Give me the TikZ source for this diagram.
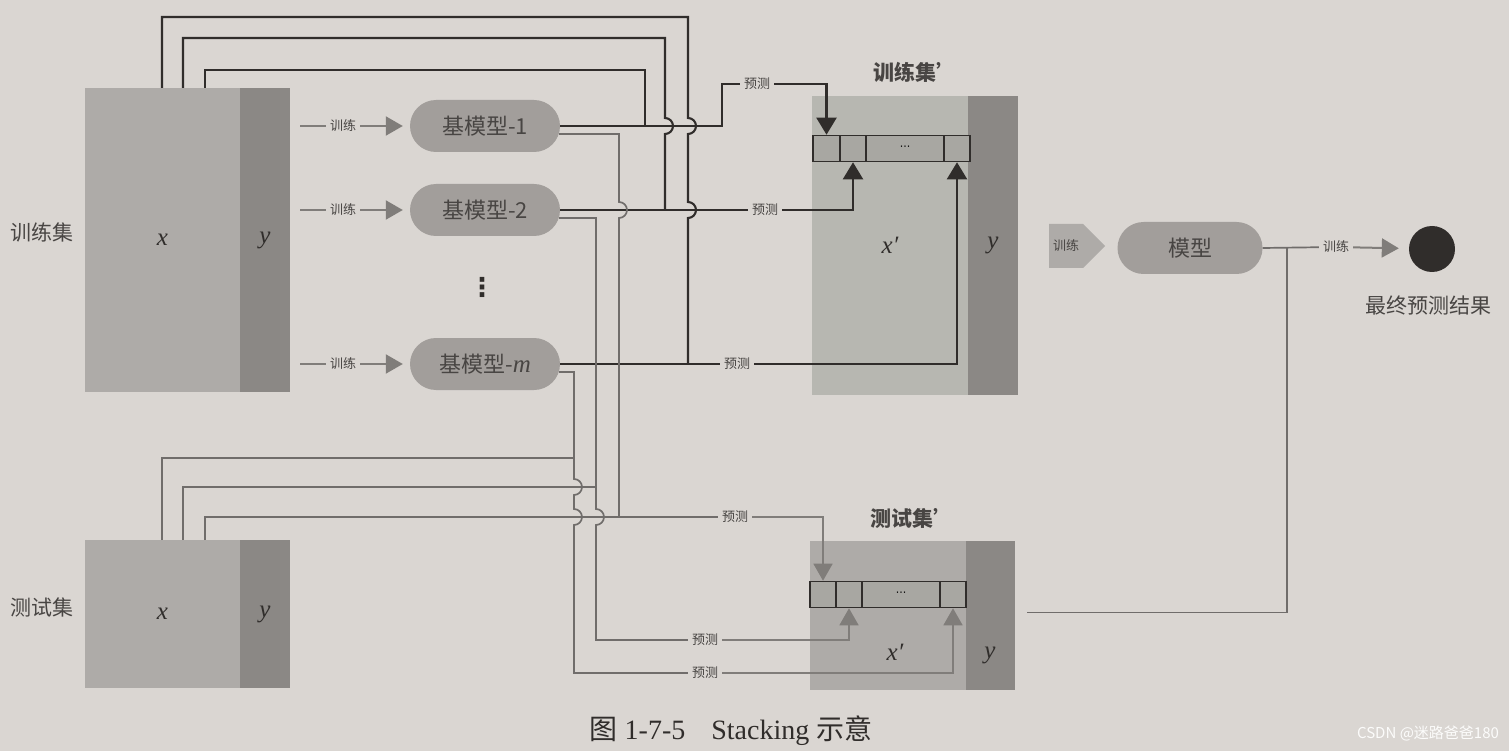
\documentclass[tikz,border=0pt]{standalone}
\usepackage{fontspec}
\setmainfont{Liberation Serif}
\newfontfamily\cjk{Noto Sans CJK SC}
\newfontfamily\djv{DejaVu Sans}
\usepackage{tikz}
\usetikzlibrary{arrows.meta, positioning, calc, shapes.symbols}
\definecolor{paper}{RGB}{218,214,210}
\definecolor{xGray}{RGB}{174,171,168}
\definecolor{yGray}{RGB}{139,136,133}
\definecolor{xpGray}{RGB}{183,183,177}
\definecolor{cellGray}{RGB}{168,167,162}
\definecolor{pillGray}{RGB}{162,158,155}
\definecolor{ink}{RGB}{48,45,43}
\definecolor{lineGray}{RGB}{112,109,107}
\definecolor{arrGray}{RGB}{128,125,122}
\definecolor{txtGray}{RGB}{72,69,67}

\begin{document}
\begin{tikzpicture}[x=1pt, y=1pt,
  xblk/.style={rectangle, inner sep=0pt, fill=xGray, text=ink,
               font=\fontsize{25}{28}\selectfont\itshape},
  yblk/.style={xblk, fill=yGray},
  pill/.style={rectangle, rounded corners=26pt, fill=pillGray, text=txtGray,
               minimum width=150pt, minimum height=52pt,
               font=\cjk\fontsize{22}{26}\selectfont},
  cell/.style={rectangle, draw=ink, line width=1.6pt, fill=cellGray,
               minimum height=26pt, inner sep=0pt, font=\djv\fontsize{11}{13}\selectfont},
  lbl/.style={text=txtGray, font=\cjk\fontsize{21}{25}\selectfont},
  ttl/.style={text=txtGray, font=\cjk\bfseries\fontsize{21}{25}\selectfont},
  tag/.style={text=txtGray, fill=paper, inner sep=4pt, font=\cjk\fontsize{13}{15}\selectfont},
  dk/.style={draw=ink, line width=2.1pt},
  gy/.style={draw=lineGray, line width=1.7pt},
  darr/.style={dk, -{Triangle[length=17pt,width=20pt]}},
  garr/.style={gy, draw=arrGray, -{Triangle[length=17pt,width=19pt]}},
  tline/.style={draw=arrGray, line width=2pt},
  tarr/.style={tline, -{Triangle[length=17pt,width=19pt]}}
]
  \fill[paper] (0,0) rectangle (1509,-751);
  \useasboundingbox (0,0) rectangle (1509,-751);

  % data sets
  \node[lbl] (trL) at (42,-232) {训练集};
  \node[xblk, minimum width=155pt, minimum height=304pt] (trX) at (162.5,-240) {x};
  \node[yblk, minimum width=50pt, minimum height=304pt] (trY) at (265,-240) {y};
  \node[lbl] (teL) at (42,-607) {测试集};
  \node[xblk, minimum width=155pt, minimum height=148pt] (teX) at (162.5,-614) {x};
  \node[yblk, minimum width=50pt, minimum height=148pt] (teY) at (265,-614) {y};

  % base models
  \node[pill] (bm1) at (485,-126) {基模型-1};
  \node[pill] (bm2) at (485,-210) {基模型-2};
  \node[pill] (bmm) at (485,-364) {基模型-{\rmfamily\itshape\fontsize{25}{28}\selectfont m}};
  \node[text=ink, font=\djv\bfseries\fontsize{26}{30}\selectfont] (bmd) at (482,-287) {⋮};

  \coordinate (s1) at (300,-126);
  \coordinate (s2) at (300,-210);
  \coordinate (sm) at (300,-364);
  \node[tag] (tl1) at (343,-126) {训练};
  \node[tag] (tl2) at (343,-210) {训练};
  \node[tag] (tlm) at (343,-364) {训练};
  \draw[tline] (s1) -- (tl1);
  \draw[tarr, shorten >=7pt] (tl1) -- (bm1);
  \draw[tline] (s2) -- (tl2);
  \draw[tarr, shorten >=7pt] (tl2) -- (bm2);
  \draw[tline] (sm) -- (tlm);
  \draw[tarr, shorten >=7pt] (tlm) -- (bmm);

  % train set'
  \node[ttl] (tsL) at (915,-72) {训练集\textbf{’}};
  \node[xblk, fill=xpGray, minimum width=156pt, minimum height=299pt] (tsX) at (890,-245.5) {x′};
  \node[yblk, minimum width=50pt, minimum height=299pt] (tsY) at (993,-245.5) {y};
  \node[cell, minimum width=27pt] (tc1) at (826.5,-148.5) {};
  \node[cell, minimum width=26pt] (tc2) at (853,-148.5) {};
  \node[cell, minimum width=78pt] (tcd) at (905,-148.5) {···};
  \node[cell, minimum width=26pt] (tc3) at (957,-148.5) {};

  % test set'
  \node[ttl] (esL) at (912,-518) {测试集\textbf{’}};
  \node[xblk, minimum width=156pt, minimum height=149pt] (esX) at (888,-615.5) {};
  \node[yblk, minimum width=49pt, minimum height=149pt] (esY) at (990.5,-615.5) {};
  \node[text=ink, font=\fontsize{25}{28}\selectfont\itshape] (exL) at (895,-652) {x′};
  \node[text=ink, font=\fontsize{25}{28}\selectfont\itshape] (eyL) at (990,-655) {y};
  \node[cell, minimum width=26pt] (ec1) at (823,-594.5) {};
  \node[cell, minimum width=26pt] (ec2) at (849,-594.5) {};
  \node[cell, minimum width=78pt] (ecd) at (901,-594.5) {···};
  \node[cell, minimum width=26pt] (ec3) at (953,-594.5) {};

  % prediction labels
  \node[tag] (p1) at (757,-84) {预测};
  \node[tag] (p2) at (765,-210) {预测};
  \node[tag] (pm) at (737,-364) {预测};
  \node[tag] (q1) at (735,-517) {预测};
  \node[tag] (q2) at (705,-640) {预测};
  \node[tag] (qm) at (705,-673) {预测};

  % ── train x -> base model predictions ──
  \coordinate (xa) at (205,-88);
  \coordinate (xb) at (183,-88);
  \coordinate (xc) at (162,-88);
  \coordinate (j1) at (645,-126);
  \coordinate (j2) at (665,-210);
  \coordinate (jm) at (688,-364);
  \coordinate (c1) at (722,-84);
  \draw[dk] (xa) -- ++(0,18) -| (j1);
  \draw[dk] (xb) -- ++(0,50) -| ($(j2 |- bm1.east)+(0,8)$)
      arc[start angle=90, end angle=-90, radius=8] -- (j2);
  \draw[dk] (xc) -- ++(0,71) -| ($(jm |- bm1.east)+(0,8)$)
      arc[start angle=90, end angle=-90, radius=8] -- ($(jm |- bm2.east)+(0,8)$)
      arc[start angle=90, end angle=-90, radius=8] -- (jm);
  \draw[dk] (bm1.east) -| (c1) -- (p1);
  \draw[darr] (p1) -| (tc1.north);
  \draw[dk] (bm2.east) -- (p2);
  \draw[darr] (p2) -| (tc2.south);
  \draw[dk] (bmm.east) -- (pm);
  \draw[darr] (pm) -| (tc3.south);

  % ── test x -> base model predictions ──
  \coordinate (za) at (205,-540);
  \coordinate (zb) at (183,-540);
  \coordinate (zc) at (162,-540);
  \coordinate (t1) at (619,-517);
  \coordinate (t2) at (596,-487);
  \coordinate (t3) at (574,-458);
  \draw[gy] ($(bm1.east)+(-1,-8)$) -| ($(t1 |- bm2.east)+(0,8)$)
      arc[start angle=90, end angle=-90, radius=8] -- (t1);
  \draw[gy] ($(bm2.east)+(-1,-8)$) -| ($(t2 |- q1)+(0,8)$)
      arc[start angle=90, end angle=-90, radius=8] -- (t2 |- q2) -- (q2);
  \draw[gy] ($(bmm.east)+(-1,-8)$) -| ($(t3 |- t2)+(0,8)$)
      arc[start angle=90, end angle=-90, radius=8] -- ($(t3 |- q1)+(0,8)$)
      arc[start angle=90, end angle=-90, radius=8] -- (t3 |- qm) -- (qm);
  \draw[gy] (za) |- (q1);
  \draw[gy] (zb) |- (t2);
  \draw[gy] (zc) |- (t3);
  \draw[garr] (q1) -| (ec1.north);
  \draw[garr] (q2) -| (ec2.south);
  \draw[garr] (qm) -| (ec3.south);

  % ── meta model ──
  \node[signal, signal to=east, fill=xGray, text=txtGray, minimum width=56pt,
        minimum height=44pt, inner sep=2pt, font=\cjk\fontsize{13}{15}\selectfont]
        (sg) at (1066,-246) {训练};
  \node[pill, minimum width=145pt] (mdl) at (1190,-248) {模型};
  \node[tag] (r1) at (1336,-247) {训练};
  \node[circle, fill=ink, minimum size=46pt, inner sep=0pt] (out) at (1432,-249) {};
  \node[lbl] (res) at (1428,-306) {最终预测结果};
  \coordinate (jf) at (1287,-247);
  \draw[gy] (mdl.east) -- (r1);
  \draw[tarr, shorten >=10pt] (r1) -- (out);
  \draw[gy] ($(esY.east)+(12,3)$) -| (jf);

  % caption
  \node[text=ink, font=\fontsize{28}{32}\selectfont] (cap) at (731,-731)
      {{\cjk 图} 1-7-5\hspace{26pt}Stacking {\cjk 示意}};
  \node[text=white!92!paper, font=\cjk\fontsize{15}{18}\selectfont] (wm) at (1428,-733)
      {CSDN @迷路爸爸180};
\end{tikzpicture}
\end{document}
